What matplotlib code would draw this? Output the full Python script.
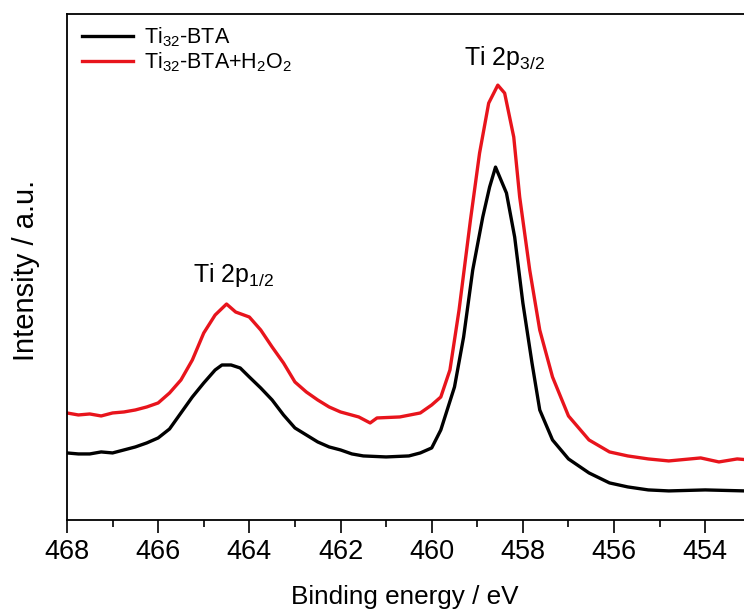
import matplotlib
matplotlib.use("Agg")
import matplotlib.pyplot as plt
from matplotlib.ticker import MultipleLocator

plt.rcParams["font.family"] = ["Liberation Sans", "DejaVu Sans"]
plt.rcParams["mathtext.default"] = "regular"

# binding energy (eV) and intensity (a.u.)
bta_energy = [468.0, 467.75, 467.5, 467.25, 467.0, 466.75, 466.5, 466.25, 466.0,
              465.75, 465.5, 465.25, 465.0, 464.75, 464.6, 464.4, 464.2, 464.0,
              463.75, 463.5, 463.25, 463.0, 462.75, 462.5, 462.25, 462.0, 461.75,
              461.5, 461.0, 460.5, 460.25, 460.0, 459.8, 459.5, 459.3, 459.1,
              458.88, 458.73, 458.6, 458.36, 458.18, 458.0, 457.8, 457.63, 457.35,
              457.0, 456.55, 456.1, 455.7, 455.25, 454.8, 454.0, 453.13, 452.5]
bta_intensity = [67, 66, 66, 68, 67, 70, 73, 77, 82,
                 91, 107, 123, 137, 150, 155, 155, 152, 143,
                 132, 120, 105, 92, 85, 78, 73, 70, 66,
                 64, 63, 64, 67, 72, 90, 133, 183, 250,
                 303, 333, 353, 327, 283, 217, 157, 110, 80,
                 61, 47, 37, 33, 30, 29, 30, 29, 29]

h2o2_energy = [468.0, 467.75, 467.5, 467.25, 467.0, 466.75, 466.5, 466.25, 466.0,
               465.75, 465.5, 465.25, 465.0, 464.75, 464.5, 464.3, 464.0, 463.75,
               463.5, 463.25, 463.0, 462.75, 462.5, 462.25, 462.0, 461.6, 461.35,
               461.2, 460.7, 460.25, 460.0, 459.8, 459.6, 459.4, 459.15, 458.95,
               458.75, 458.55, 458.4, 458.2, 458.07, 457.85, 457.63, 457.35, 457.0,
               456.55, 456.1, 455.7, 455.25, 454.8, 454.1, 453.7, 453.3, 452.5]
h2o2_intensity = [107, 105, 106, 104, 107, 108, 110, 113, 117,
                  127, 140, 160, 187, 205, 216, 208, 203, 190,
                  173, 157, 138, 128, 120, 113, 108, 103, 97,
                  102, 103, 107, 115, 123, 150, 210, 300, 367,
                  417, 435, 427, 383, 323, 250, 190, 143, 104,
                  80, 68, 64, 61, 59, 62, 58, 61, 58]

fig = plt.figure(figsize=(7.44, 6.16), dpi=100)
ax = fig.add_axes([0.090, 0.156, 0.910, 0.821])

ax.plot(bta_energy, bta_intensity, color="black", lw=2.4, label="Ti$_{32}$-BTA")
ax.plot(h2o2_energy, h2o2_intensity, color="#e8141c", lw=2.4,
        label="Ti$_{32}$-BTA+H$_2$O$_2$")

# the original plot runs past the right edge of the image
ax.set_xlim(468, 453.15)
ax.set_ylim(0, 506)
ax.xaxis.set_major_locator(MultipleLocator(2))
ax.xaxis.set_minor_locator(MultipleLocator(1))
ax.set_yticks([])
ax.tick_params(axis="x", which="major", length=9.5, width=1.2, labelsize=19.5, pad=4)
ax.tick_params(axis="x", which="minor", length=5, width=1.2)
ax.spines["right"].set_visible(False)
for sp in ("left", "top", "bottom"):
    ax.spines[sp].set_linewidth(1.3)

ax.set_xlabel("Binding energy / eV", fontsize=18.8)
ax.xaxis.set_label_coords(0.499, -0.128)
ax.set_ylabel("Intensity / a.u.", fontsize=21)
ax.yaxis.set_label_coords(-0.040, 0.494)

ax.text(464.35, 245, "Ti 2p$_{1/2}$", fontsize=18, ha="center", va="center")
ax.text(458.4, 462, "Ti 2p$_{3/2}$", fontsize=18, ha="center", va="center")

ax.legend(loc="upper left", bbox_to_anchor=(0.012, 0.99), frameon=False,
          fontsize=15.5, handlelength=2.4, handletextpad=0.5, labelspacing=0.05,
          borderaxespad=0, borderpad=0.3)

fig.savefig("out.png", dpi=100)
